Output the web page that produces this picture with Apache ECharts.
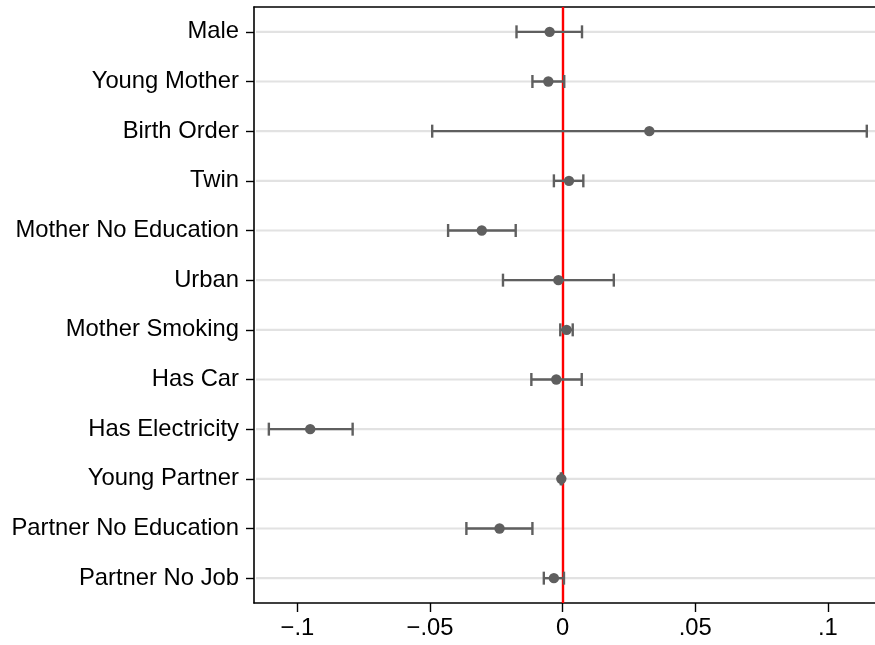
<!DOCTYPE html>
<html>
<head>
<meta charset="utf-8">
<script src="https://cdn.jsdelivr.net/npm/echarts@6/dist/echarts.min.js"></script>
<style>
html,body{margin:0;padding:0;background:#fff;}
#chart{width:875px;height:645px;}
</style>
</head>
<body>
<div id="chart"></div>
<script>
const categories = ['Male','Young Mother','Birth Order','Twin','Mother No Education','Urban','Mother Smoking','Has Car','Has Electricity','Young Partner','Partner No Education','Partner No Job'];
const estimates = [-0.0049,-0.0054,0.0327,0.0024,-0.0305,-0.0016,0.0015,-0.0024,-0.0952,-0.0005,-0.0238,-0.0033];
const lower = [-0.0174,-0.0114,-0.0492,-0.0033,-0.0432,-0.0225,-0.0009,-0.0118,-0.1108,-0.0007,-0.0363,-0.0071];
const upper = [0.0073,0.0006,0.1147,0.0078,-0.0177,0.0193,0.0038,0.0072,-0.0792,-0.0003,-0.0114,0.0005];
const xTickValues = [-0.1,-0.05,0,0.05,0.1];
const xTickLabels = ['\u2212.1','\u2212.05','0','.05','.1'];

const FONT = 'Liberation Sans, Arial, Helvetica, sans-serif';
const X_MIN = -0.1164, X_MAX = 0.1178;

const chart = echarts.init(document.getElementById('chart'), null, {renderer:'canvas'});

const errData = categories.map((c,i)=>[lower[i], upper[i], estimates[i], i]);
const gridData = categories.map((c,i)=>[0, i]);

function labelFor(v){
  let best = 0, bd = Infinity;
  xTickValues.forEach((t,k)=>{const d=Math.abs(t-v); if(d<bd){bd=d;best=k;}});
  return xTickLabels[best];
}

const option = {
  animation:false,
  backgroundColor:'#ffffff',
  grid:{left:254, right:0, top:7, bottom:42, containLabel:false},
  xAxis:[{
    type:'value', min:X_MIN, max:X_MAX, position:'bottom',
    axisLine:{show:true, onZero:false, lineStyle:{color:'#000', width:1.6}},
    axisTick:{show:true, length:9, customValues:xTickValues, lineStyle:{color:'#000', width:1.4}},
    axisLabel:{show:true, customValues:xTickValues, formatter:labelFor, fontFamily:FONT, fontSize:23.8, color:'#000', margin:13},
    splitLine:{show:false}
  },{
    type:'value', min:X_MIN, max:X_MAX, position:'top',
    axisLine:{show:true, onZero:false, lineStyle:{color:'#000', width:1.6}},
    axisTick:{show:false}, axisLabel:{show:false}, splitLine:{show:false}
  }],
  yAxis:{
    type:'category', data:categories, inverse:true, boundaryGap:true,
    axisLine:{show:true, onZero:false, lineStyle:{color:'#000', width:1.6}},
    axisTick:{show:true, alignWithLabel:true, length:8, lineStyle:{color:'#000', width:1.4}},
    axisLabel:{fontFamily:FONT, fontSize:23.8, color:'#000', margin:15},
    splitLine:{show:false}
  },
  series:[{
    type:'custom', name:'grid', xAxisIndex:0, yAxisIndex:0, z:1,
    data:gridData,
    encode:{x:0, y:1},
    renderItem:function(params, api){
      const cs = params.coordSys;
      const y = api.coord([0, api.value(1)])[1];
      return {type:'line', shape:{x1:cs.x+2, y1:y, x2:cs.x+cs.width, y2:y},
        style:{stroke:'#e2e2e2', lineWidth:2.2}};
    },
    markLine:{
      silent:true, symbol:['none','none'], label:{show:false},
      lineStyle:{color:'#ff0000', width:2.4, type:'solid'},
      data:[{xAxis:0}]
    }
  },{
    type:'custom', name:'est', xAxisIndex:0, yAxisIndex:0, z:5,
    data:errData,
    encode:{x:[0,1,2], y:3},
    renderItem:function(params, api){
      const idx = api.value(3);
      const lo = api.coord([api.value(0), idx]);
      const hi = api.coord([api.value(1), idx]);
      const pt = api.coord([api.value(2), idx]);
      const col = '#5f5f5f';
      const h = 6.5;
      return {type:'group', children:[
        {type:'line', shape:{x1:lo[0], y1:lo[1], x2:hi[0], y2:hi[1]}, style:{stroke:col, lineWidth:2.4}},
        {type:'line', shape:{x1:lo[0], y1:lo[1]-h, x2:lo[0], y2:lo[1]+h}, style:{stroke:col, lineWidth:2.4}},
        {type:'line', shape:{x1:hi[0], y1:hi[1]-h, x2:hi[0], y2:hi[1]+h}, style:{stroke:col, lineWidth:2.4}},
        {type:'circle', shape:{cx:pt[0], cy:pt[1], r:5.2}, style:{fill:col}}
      ]};
    }
  }]
};
chart.setOption(option);
</script>
</body>
</html>
